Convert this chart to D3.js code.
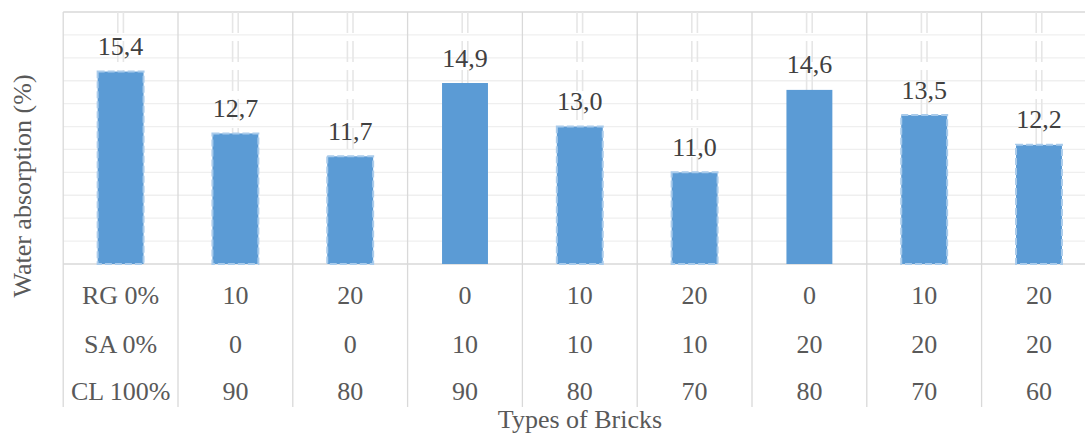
<!DOCTYPE html>
<html>
<head>
<meta charset="utf-8">
<script src="https://cdn.jsdelivr.net/npm/d3@7"></script>
<style>
  body { margin: 0; background: #fff; }
  svg { display: block; font-family: "Liberation Serif", "Times New Roman", serif; }
</style>
</head>
<body>
<div id="main"></div>
<script>
// values
var absorption = [15.4, 12.7, 11.7, 14.9, 13.0, 11.0, 14.6, 13.5, 12.2];
var rgRow = ["RG 0%", "10", "20", "0", "10", "20", "0", "10", "20"];
var saRow = ["SA 0%", "0", "0", "10", "10", "10", "20", "20", "20"];
var clRow = ["CL 100%", "90", "80", "90", "80", "70", "80", "70", "60"];
var yTicks = [7, 8, 9, 10, 11, 12, 13, 14, 15, 16, 17, 18];
var yTitle = "Water absorption (%)";
var xTitle = "Types of Bricks";

var W = 1085, H = 434;
var margin = { top: 12, left: 63.2 },
  plotRight = 1096.4,  // plot runs past the picture edge (cropped)
  plotBottom = 264,
  tableBottom = 407;

// bars without the dashed outline
var plainBars = [3, 6];

var svg = d3.select("#main").append("svg")
  .attr("width", W)
  .attr("height", H);

var x = d3.scaleBand()
  .domain(d3.range(absorption.length))
  .range([margin.left, plotRight])
  .paddingInner(0)
  .paddingOuter(0);

var y = d3.scaleLinear()
  .domain([d3.min(yTicks), d3.max(yTicks)])
  .range([plotBottom, margin.top]);

var comma = d3.formatLocale({ decimal: ",", thousands: " ", grouping: [3], currency: ["", ""] }).format(".1f");

// horizontal gridlines
svg.append("g").selectAll("line")
  .data(yTicks)
  .enter().append("line")
  .attr("x1", margin.left).attr("x2", plotRight)
  .attr("y1", function (d) { return y(d); })
  .attr("y2", function (d) { return y(d); })
  .attr("stroke", function (d, i) { return (i == 0 || i == yTicks.length - 1) ? "#d9d9d9" : "#efefef"; })
  .attr("stroke-width", 1.3);

// category separators (run down through the label table)
var seps = d3.range(absorption.length).map(function (i) { return x(i); });
svg.append("g").selectAll("line")
  .data(seps)
  .enter().append("line")
  .attr("x1", function (d) { return d; })
  .attr("x2", function (d) { return d; })
  .attr("y1", margin.top)
  .attr("y2", tableBottom)
  .attr("stroke", "#d9d9d9")
  .attr("stroke-width", 1.3);

// faint dashed double lines above each bar
var drop = svg.append("g");
[-2.8, 2.8].forEach(function (off) {
  drop.selectAll(null)
    .data(absorption)
    .enter().append("line")
    .attr("x1", function (d, i) { return x(i) + x.bandwidth() / 2 + off; })
    .attr("x2", function (d, i) { return x(i) + x.bandwidth() / 2 + off; })
    .attr("y1", margin.top)
    .attr("y2", function (d) { return y(d); })
    .attr("stroke", "#e6e6e6")
    .attr("stroke-width", 1.6)
    .attr("stroke-dasharray", "21,8");
});

// bars
var barW = x.bandwidth() * 0.4;
svg.append("g").selectAll("rect")
  .data(absorption)
  .enter().append("rect")
  .attr("x", function (d, i) { return x(i) + (x.bandwidth() - barW) / 2; })
  .attr("y", function (d) { return y(d); })
  .attr("width", barW)
  .attr("height", function (d) { return plotBottom - y(d); })
  .attr("fill", "#5b9bd5")
  .attr("stroke", function (d, i) { return plainBars.includes(i) ? "none" : "#a9cbeb"; })
  .attr("stroke-width", 2)
  .attr("stroke-dasharray", "7,3");

// value labels
svg.append("g").selectAll("text")
  .data(absorption)
  .enter().append("text")
  .attr("x", function (d, i) { return x(i) + x.bandwidth() / 2; })
  .attr("y", function (d) { return y(d) - 16.5; })
  .attr("text-anchor", "middle")
  .attr("font-size", 26)
  .attr("fill", "#404040")
  .text(function (d) { return comma(d); });

// label table under the axis
var rows = [rgRow, saRow, clRow];
var rowBase = [304.3, 352.5, 400];
rows.forEach(function (row, r) {
  svg.append("g").selectAll("text")
    .data(row)
    .enter().append("text")
    .attr("x", function (d, i) { return x(i) + x.bandwidth() / 2; })
    .attr("y", rowBase[r])
    .attr("text-anchor", "middle")
    .attr("font-size", 26)
    .attr("fill", "#595959")
    .text(function (d) { return d; });
});

// axis titles
svg.append("text")
  .attr("transform", "translate(31,186) rotate(-90)")
  .attr("text-anchor", "middle")
  .attr("font-size", 26)
  .attr("fill", "#595959")
  .text(yTitle);

svg.append("text")
  .attr("x", 580)
  .attr("y", 427.5)
  .attr("text-anchor", "middle")
  .attr("font-size", 26)
  .attr("fill", "#595959")
  .text(xTitle);
</script>
</body>
</html>
